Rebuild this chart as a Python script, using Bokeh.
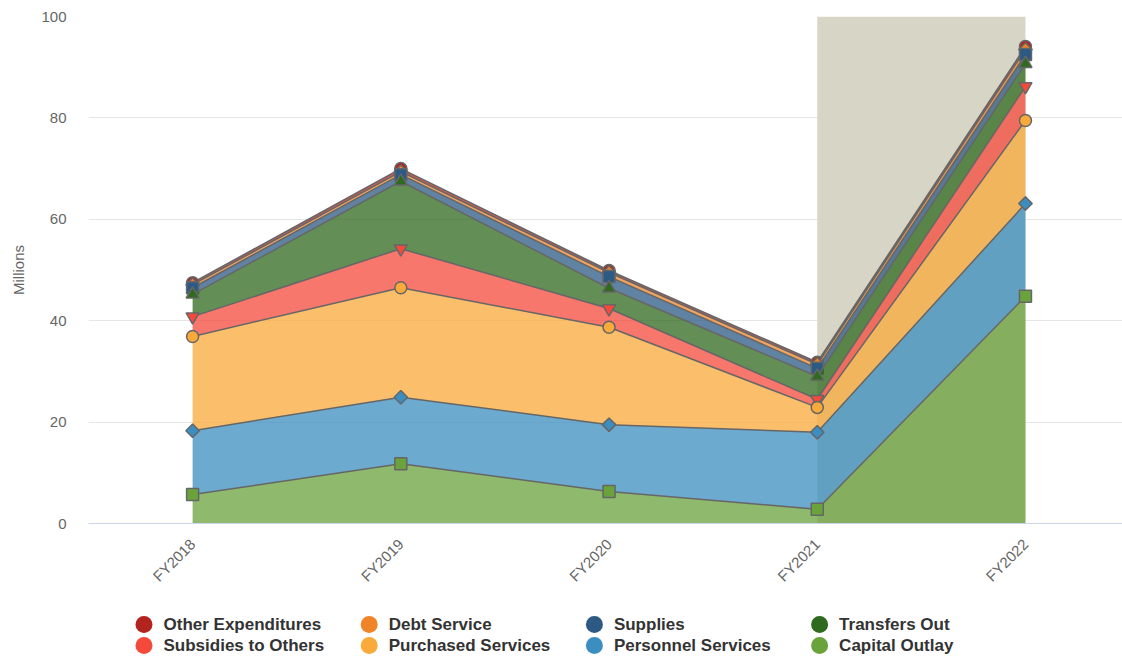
import math
import numpy as np
from bokeh.plotting import figure
from bokeh.models import Range1d, FixedTicker, BoxAnnotation, ColumnDataSource
from bokeh.layouts import column
from bokeh.core.properties import value
from bokeh.embed import file_html
from bokeh.resources import INLINE

# ---------------- data ----------------
categories = ["FY2018", "FY2019", "FY2020", "FY2021", "FY2022"]
y_ticks = [0, 20, 40, 60, 80, 100]
band_start = "FY2021"
band_end = "FY2022"

# series in legend / drawing order (index 0 sits on top of the stack)
series_names = ["Other Expenditures", "Debt Service", "Supplies", "Transfers Out",
                "Subsidies to Others", "Purchased Services", "Personnel Services",
                "Capital Outlay"]
other_expenditures = [0.4, 0.6, 0.4, 0.4, 0.6]
debt_service = [0.6, 0.6, 0.8, 0.8, 1.0]
supplies = [1.3, 1.3, 2.3, 1.6, 1.8]
transfers_out = [4.4, 13.3, 4.0, 4.5, 4.5]
subsidies_to_others = [3.9, 7.7, 3.7, 1.6, 6.7]
purchased_services = [18.6, 21.6, 19.2, 4.9, 16.4]
personnel_services = [12.6, 13.1, 13.2, 15.2, 18.3]
capital_outlay = [5.7, 11.8, 6.3, 2.8, 44.8]

series_values = [other_expenditures, debt_service, supplies, transfers_out,
                 subsidies_to_others, purchased_services, personnel_services,
                 capital_outlay]
colors = ["#b3231f", "#f08428", "#2c5a84", "#2f6a1e",
          "#f5493b", "#f9aa3b", "#3b8ebf", "#6aa23c"]
markers = ["circle", "diamond", "square", "triangle",
           "inverted_triangle", "circle", "diamond", "square"]

FONT_NAME = "Liberation Sans"
FONT = value(FONT_NAME)
EDGE = "#666666"

# ---------------- main chart ----------------
FRAME_L, FRAME_R = 88, 1122
x = np.arange(len(categories))
p = figure(width=1122, height=600, output_backend="svg", toolbar_location=None,
           x_range=Range1d(-0.5, 4.466), y_range=Range1d(0, 100),
           min_border_left=FRAME_L, min_border_right=0, min_border_top=16,
           min_border_bottom=77)
p.outline_line_color = None
p.background_fill_color = "white"
p.border_fill_color = "white"

band = BoxAnnotation(left=categories.index(band_start), right=categories.index(band_end),
                     fill_color="#d7d5c5", fill_alpha=1.0, line_color=None,
                     level="underlay")
p.add_layout(band)

# stack from bottom (last series) to top (first series)
n = len(series_values)
lowers = [None] * n
uppers = [None] * n
running = np.zeros(len(categories))
for i in range(n - 1, -1, -1):
    lowers[i] = running.copy()
    running = running + np.array(series_values[i])
    uppers[i] = running.copy()

for i in range(n):
    src = ColumnDataSource(dict(x=x, lo=lowers[i], hi=uppers[i]))
    p.varea(x="x", y1="lo", y2="hi", source=src, fill_color=colors[i], fill_alpha=0.75)
    p.line(x="x", y="hi", source=src, line_color=EDGE, line_width=1.5)
    if markers[i] == "diamond":
        p.scatter(x="x", y="hi", source=src, marker="square", angle=math.pi / 4,
                  size=9.5, fill_color=colors[i], line_color=EDGE, line_width=1.5)
    else:
        sz = 12 if markers[i] in ("circle", "square") else 13
        p.scatter(x="x", y="hi", source=src, marker=markers[i], size=sz,
                  fill_color=colors[i], line_color=EDGE, line_width=1.5)

p.xgrid.grid_line_color = None
p.ygrid.grid_line_color = "#e6e6e6"
p.ygrid.grid_line_width = 1

yax = p.yaxis[0]
yax.ticker = FixedTicker(ticks=y_ticks)
yax.axis_line_color = None
yax.major_tick_line_color = None
yax.minor_tick_line_color = None
yax.major_tick_out = 0
yax.major_label_standoff = 22
yax.major_label_text_font = FONT_NAME
yax.major_label_text_font_size = "15px"
yax.major_label_text_color = "#666666"
yax.axis_label = "Millions"
yax.axis_label_text_font = FONT_NAME
yax.axis_label_text_font_style = "normal"
yax.axis_label_text_font_size = "15px"
yax.axis_label_text_color = "#666666"
yax.axis_label_standoff = 11

xax = p.xaxis[0]
xax.ticker = FixedTicker(ticks=list(range(len(categories))))
xax.major_label_overrides = {i: c for i, c in enumerate(categories)}
xax.major_label_orientation = math.pi / 4
xax.axis_line_color = "#ccd6eb"
xax.axis_line_width = 1
xax.major_tick_line_color = None
xax.minor_tick_line_color = None
xax.major_tick_out = 0
xax.major_label_standoff = 18
xax.major_label_text_font = FONT_NAME
xax.major_label_text_font_size = "15px"
xax.major_label_text_color = "#666666"

# ---------------- legend (separate strip, frame aligned with the chart) ----------------
leg_h = 58
leg = figure(width=1122, height=leg_h, output_backend="svg", toolbar_location=None,
             x_range=Range1d(FRAME_L, FRAME_R), y_range=Range1d(leg_h, 0),
             min_border_left=FRAME_L, min_border_right=0, min_border_top=0,
             min_border_bottom=0)
leg.axis.visible = False
leg.grid.visible = False
leg.outline_line_color = None

ncols = 4
col_x0, col_dx = 143.5, 225.2
row_y0, row_dy = 24, 21
lx, ly, tx, ty, lc, lt = [], [], [], [], [], []
for i, name in enumerate(series_names):
    r, c = divmod(i, ncols)
    cx = col_x0 + c * col_dx
    cy = row_y0 + r * row_dy
    lx.append(cx); ly.append(cy); lc.append(colors[i])
    tx.append(cx + 19.5); ty.append(cy); lt.append(name)
leg.scatter(x=lx, y=ly, marker="circle", size=17, fill_color=lc, line_color=None)
leg.text(x=tx, y=ty, text=lt, text_font=FONT, text_font_style="bold",
         text_font_size="17px", text_color="#333333", text_baseline="middle",
         text_align="left")

layout = column(p, leg, spacing=0)
open("out.html", "w").write(file_html(layout, INLINE))
